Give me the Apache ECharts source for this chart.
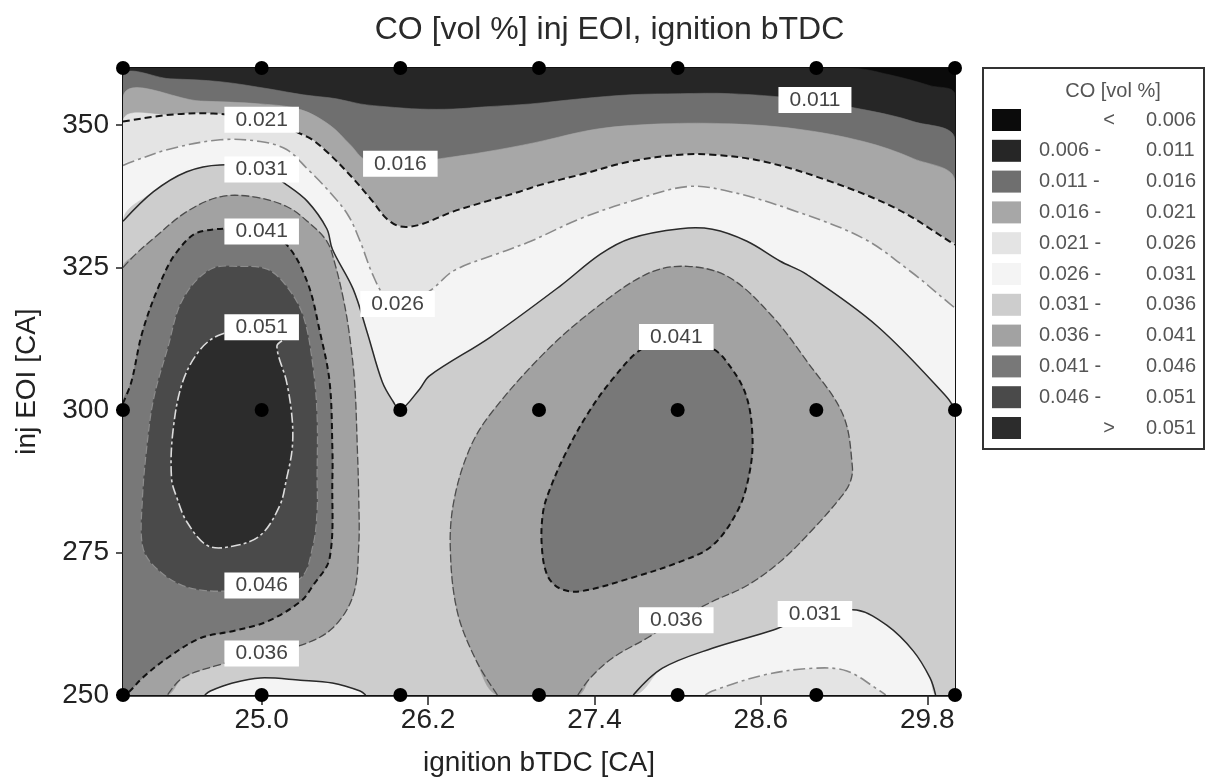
<!DOCTYPE html>
<html>
<head>
<meta charset="utf-8">
<title>CO [vol %] inj EOI, ignition bTDC</title>
<script src="https://cdn.jsdelivr.net/npm/echarts@6/dist/echarts.min.js"></script>
<style>
  html, body { margin: 0; padding: 0; background: #fff; }
  #chart { width: 1219px; height: 782px; }
</style>
</head>
<body>
<div id="chart"></div>
<script>
// Measurement grid (black dots): ignition bTDC x inj EOI
const ignitionPoints = [24, 25, 26, 27, 28, 29, 30];
const injEoiPoints = [250, 300, 360];

// Axis tick values
const xTickValues = [25.0, 26.2, 27.4, 28.6, 29.8];
const yTickValues = [250, 275, 300, 325, 350];

// CO contour levels [vol %] and the fill of each band (band i lies between level i-1 and level i)
const coLevels = [0.006, 0.011, 0.016, 0.021, 0.026, 0.031, 0.036, 0.041, 0.046, 0.051];
const bandColors = ['#0b0b0b', '#262626', '#6f6f6f', '#a7a7a7', '#e4e4e4', '#f4f4f4',
                    '#cdcdcd', '#a2a2a2', '#787878', '#4a4a4a', '#2c2c2c'];

// Iso-lines as [ignition bTDC, inj EOI] points
const line006 = [[29.24,360],[29.53,358.8],[29.82,356.9],[30,355.3]];
const line011 = [[24,358.3],[24.34,358.1],[24.70,357.6],[25.06,356.3],[25.30,355.3],[25.54,354.6],[25.71,353.7],[25.90,353.2],[26.14,352.8],[26.38,352.8],[26.62,353.2],[26.94,353.7],[27.30,354.6],[27.66,355.3],[28.02,355.5],[28.38,355.5],[28.86,354.6],[29.34,352.7],[29.70,350.6],[30,347.4]];
const line016 = [[24,354.8],[24.56,354.2],[24.99,353.7],[25.28,352.7],[25.49,350.0],[25.64,346.5],[25.75,343.9],[26.0,343.2],[26.29,344.1],[26.62,345.3],[26.97,346.9],[27.42,349.3],[27.89,350.2],[28.38,350.2],[28.86,349.3],[29.34,347.1],[29.70,344.1],[30,340.1]];
const line021 = [[24,350.6],[24.34,351.8],[24.65,352.0],[25.0,350.9],[25.33,347.9],[25.47,345.3],[25.66,340.6],[25.80,336.6],[25.90,333.6],[26.0,332.2],[26.14,332.5],[26.38,334.8],[26.62,336.6],[26.86,338.3],[27.01,339.5],[27.30,341.3],[27.66,343.6],[28.02,344.8],[28.25,344.8],[28.62,343.6],[29.10,340.1],[29.58,335.3],[29.96,329.6],[30,329.0]];
const line026 = [[24,342.9],[24.07,343.6],[24.34,345.8],[24.70,347.4],[24.99,347.1],[25.18,345.7],[25.33,342.3],[25.47,338.8],[25.62,334.3],[25.71,329.6],[25.80,323.8],[25.89,319.8],[25.98,318.6],[26.11,319.4],[26.23,321.2],[26.39,324.5],[26.72,327.6],[26.94,329.6],[27.30,333.6],[27.66,336.6],[28.07,339.2],[28.38,338.3],[28.86,334.8],[29.34,330.1],[29.68,324.3],[29.94,319.1],[30,317.9]];
const hole026 = [[28.20,250],[28.25,250.7],[28.62,253.5],[28.98,254.7],[29.22,254.2],[29.46,250.7],[29.50,250]];
const line031 = [[24,333.1],[24.22,338.3],[24.46,341.8],[24.70,343.0],[25.0,342.2],[25.18,339.5],[25.33,336.6],[25.47,331.8],[25.51,328.2],[25.66,321.2],[25.76,313.7],[25.87,304.9],[25.95,301.4],[26.0,300.0],[26.14,303.7],[26.21,306.0],[26.65,312.8],[27.15,321.7],[27.44,327.3],[27.66,330.1],[28.02,331.8],[28.25,331.7],[28.50,329.6],[28.74,326.1],[28.93,323.8],[29.44,314.7],[29.94,302.3],[30,300.0]];
const hole031Left = [[24.59,250],[24.63,250.7],[24.79,252.1],[24.99,253.0],[25.28,252.6],[25.51,252.1],[25.71,250.7],[25.75,250]];
const hole031Right = [[27.68,250],[27.89,254.7],[28.25,258.2],[28.69,261.4],[28.99,264.2],[29.29,264.9],[29.51,262.2],[29.70,257.7],[29.82,253.0],[29.86,250]];
const left036 = [[24,325.0],[24.09,327.3],[24.22,330.1],[24.46,334.8],[24.70,337.4],[24.94,337.4],[25.18,335.7],[25.33,333.1],[25.47,329.6],[25.53,325.5],[25.59,319.4],[25.63,313.7],[25.67,304.9],[25.69,293.2],[25.70,284.5],[25.70,276.2],[25.66,267.5],[25.51,261.7],[25.28,258.7],[25.0,257.3],[24.68,255.2],[24.43,253.0],[24.32,250]];
const right036 = [[26.70,250],[26.55,255.9],[26.41,264.7],[26.36,276.2],[26.39,284.5],[26.50,293.2],[26.65,299.3],[27.03,309.8],[27.40,317.7],[27.79,324.0],[28.07,325.2],[28.37,323.3],[28.68,316.5],[28.93,308.6],[29.19,299.3],[29.26,290.0],[29.24,287.1],[29.17,284.5],[28.98,279.2],[28.74,273.4],[28.50,269.2],[28.25,266.4],[27.99,263.1],[27.78,260.0],[27.53,256.5],[27.37,253.0],[27.28,250]];
const left041 = [[24,301.2],[24.06,304.9],[24.14,313.7],[24.27,322.4],[24.39,327.8],[24.56,331.3],[25.0,331.3],[25.18,329.0],[25.33,322.4],[25.42,313.7],[25.49,304.9],[25.51,293.2],[25.51,288.0],[25.49,274.0],[25.37,269.2],[25.28,266.4],[25.04,262.9],[24.79,261.2],[24.56,260.0],[24.32,256.5],[24.14,253.0],[24.05,250.7],[24.01,250]];
const right041 = [[27.99,312.8],[28.24,310.9],[28.34,308.9],[28.49,302.8],[28.54,294.9],[28.51,288.0],[28.43,282.2],[28.25,276.2],[28.02,273.4],[27.66,270.5],[27.30,268.2],[27.15,268.7],[27.06,271.0],[27.02,276.2],[27.03,282.2],[27.08,286.2],[27.19,292.3],[27.35,299.3],[27.53,305.4],[27.74,310.7]];
const loop046 = [[25.0,269.2],[24.70,268.2],[24.43,269.2],[24.22,272.7],[24.14,276.2],[24.14,284.5],[24.17,293.2],[24.22,301.9],[24.32,310.7],[24.43,319.4],[24.63,324.7],[24.84,325.2],[25.04,324.7],[25.18,321.7],[25.30,316.5],[25.37,307.7],[25.40,299.0],[25.40,288.0],[25.40,282.2],[25.37,276.2],[25.28,270.5]];
const loop051 = [[25.0,314.5],[24.71,313.3],[24.56,310.7],[24.43,304.9],[24.36,296.2],[24.35,288.0],[24.39,284.5],[24.46,280.4],[24.61,276.2],[24.79,276.1],[24.99,278.0],[25.13,283.2],[25.18,288.0],[25.22,293.2],[25.22,298.4],[25.18,304.9],[25.11,311.2],[25.17,312.8]];

// Inline contour labels: [ignition bTDC, inj EOI, level]
const contourLabels = [
  [28.99, 354.4, 0.011],
  [26.0, 343.2, 0.016],
  [25.0, 350.9, 0.021],
  [25.98, 318.6, 0.026],
  [25.0, 342.2, 0.031],
  [28.99, 264.2, 0.031],
  [25.0, 257.3, 0.036],
  [27.99, 263.1, 0.036],
  [25.0, 331.3, 0.041],
  [27.99, 312.8, 0.041],
  [25.0, 269.2, 0.046],
  [25.0, 314.5, 0.051]
];

// ---- drawing ----
const X0 = 24, X1 = 30, Y0 = 250, Y1 = 360;
const rev = a => a.slice().reverse();
const SMOOTH = 0.35;

// Filled super-level regions, painted from the lowest level upwards
const regions = [
  { band: 0,  pts: [[X0, Y1], [X1, Y1], [X1, Y0], [X0, Y0]], flat: true },
  { band: 1,  pts: [[X0, Y1], ...line006, [X1, Y0], [X0, Y0]] },
  { band: 2,  pts: [...line011, [X1, Y0], [X0, Y0]] },
  { band: 3,  pts: [...line016, [X1, Y0], [X0, Y0]] },
  { band: 4,  pts: [...line021, [X1, Y0], [X0, Y0]] },
  { band: 5,  pts: [...line026, [X1, Y0], ...rev(hole026), [X0, Y0]] },
  { band: 6,  pts: [...line031, [X1, Y0], ...rev(hole031Right), ...rev(hole031Left), [X0, Y0]] },
  { band: 7,  pts: [...left036, [X0, Y0]] },
  { band: 7,  pts: right036 },
  { band: 8,  pts: [...left041, [X0, Y0]] },
  { band: 8,  pts: right041 },
  { band: 9,  pts: loop046 },
  { band: 10, pts: loop051 }
];

// Stroke style of each drawn iso-line level
const levelStyles = {
  '0.021': { stroke: '#151515', lineWidth: 2,   lineDash: [7, 4] },
  '0.026': { stroke: '#8a8a8a', lineWidth: 1.6, lineDash: [12, 4, 3, 4] },
  '0.031': { stroke: '#2a2a2a', lineWidth: 1.5, lineDash: null },
  '0.036': { stroke: '#4d4d4d', lineWidth: 1.3, lineDash: [8, 3] },
  '0.041': { stroke: '#111111', lineWidth: 2,   lineDash: [6, 4] },
  '0.046': { stroke: '#8c8c8c', lineWidth: 1.3, lineDash: [8, 3] },
  '0.051': { stroke: '#dcdcdc', lineWidth: 1.6, lineDash: [10, 3, 3, 3] }
};

const isoLines = [
  { level: 0.021, pts: line021 },
  { level: 0.026, pts: line026 },
  { level: 0.026, pts: hole026 },
  { level: 0.031, pts: line031 },
  { level: 0.031, pts: hole031Left },
  { level: 0.031, pts: hole031Right },
  { level: 0.036, pts: left036 },
  { level: 0.036, pts: right036 },
  { level: 0.041, pts: left041 },
  { level: 0.041, pts: right041, closed: true },
  { level: 0.046, pts: loop046, closed: true },
  { level: 0.051, pts: loop051, closed: true }
];

const dots = [];
injEoiPoints.forEach(y => ignitionPoints.forEach(x => dots.push([x, y])));

const FONT = '"Liberation Sans", Arial, Helvetica, sans-serif';

// Legend box (right side)
const legendW = 221, legendH = 381;
const legendChildren = [
  { type: 'rect', shape: { x: 0, y: 0, width: legendW, height: legendH },
    style: { fill: '#fff', stroke: '#333', lineWidth: 2 } },
  { type: 'text', x: 130, y: 23,
    style: { text: 'CO [vol %]', fill: '#555', font: '20px ' + FONT,
             align: 'center', verticalAlign: 'middle', textAlign: 'center', textVerticalAlign: 'middle' } }
];
function legendText(x, y, txt, align) {
  return { type: 'text', x: x, y: y,
    style: { text: txt, fill: '#555', font: '20px ' + FONT,
             align: align, verticalAlign: 'middle', textAlign: align, textVerticalAlign: 'middle' } };
}
bandColors.forEach((c, i) => {
  const cy = 52 + i * 30.8;
  legendChildren.push({ type: 'rect', shape: { x: 9, y: cy - 11, width: 29, height: 22 }, style: { fill: c } });
  if (i === 0) {
    legendChildren.push(legendText(126, cy, '<', 'center'));
    legendChildren.push(legendText(163, cy, coLevels[0].toFixed(3), 'left'));
  } else if (i === bandColors.length - 1) {
    legendChildren.push(legendText(126, cy, '>', 'center'));
    legendChildren.push(legendText(163, cy, coLevels[i - 1].toFixed(3), 'left'));
  } else {
    legendChildren.push(legendText(56, cy, coLevels[i - 1].toFixed(3) + ' -', 'left'));
    legendChildren.push(legendText(163, cy, coLevels[i].toFixed(3), 'left'));
  }
});

const chart = echarts.init(document.getElementById('chart'), null, { renderer: 'canvas' });
chart.setOption({
  animation: false,
  backgroundColor: '#fff',
  title: {
    text: 'CO [vol %] inj EOI, ignition bTDC',
    left: 'center',
    top: 9,
    textStyle: { fontFamily: FONT, fontSize: 32, fontWeight: 'normal', color: '#2a2a2a' }
  },
  grid: {
    left: 123, top: 68, width: 832, height: 629,
    show: true, borderColor: '#111', borderWidth: 2, backgroundColor: 'transparent'
  },
  xAxis: {
    type: 'value', min: X0, max: X1,
    name: 'ignition bTDC [CA]', nameLocation: 'middle', nameGap: 54,
    nameTextStyle: { fontFamily: FONT, fontSize: 28, color: '#222' },
    axisLine: { lineStyle: { color: '#111', width: 2.5 } },
    axisTick: { customValues: xTickValues, length: 10, lineStyle: { color: '#222', width: 1.5 } },
    axisLabel: { customValues: xTickValues, formatter: v => Number(v).toFixed(1),
                 fontFamily: FONT, fontSize: 28, color: '#222', margin: 11 },
    splitLine: { show: false }
  },
  yAxis: {
    type: 'value', min: Y0, max: Y1,
    name: 'inj EOI [CA]', nameLocation: 'middle', nameGap: 82,
    nameTextStyle: { fontFamily: FONT, fontSize: 28, color: '#222' },
    axisLine: { lineStyle: { color: '#111', width: 2.5 } },
    axisTick: { customValues: yTickValues, length: 7, lineStyle: { color: '#222', width: 1.5 } },
    axisLabel: { customValues: yTickValues, fontFamily: FONT, fontSize: 28, color: '#222', margin: 14 },
    splitLine: { show: false }
  },
  series: [
    {
      type: 'custom', name: 'bands', silent: true, clip: true, z: 1,
      data: regions.map(r => r.pts[0]),
      renderItem: (params, api) => {
        const r = regions[params.dataIndex];
        const c = bandColors[r.band];
        return {
          type: 'polygon',
          shape: { points: r.pts.map(p => api.coord(p)), smooth: r.flat ? 0 : SMOOTH },
          style: { fill: c, stroke: c, lineWidth: 0.6 }
        };
      }
    },
    {
      type: 'custom', name: 'isolines', silent: true, clip: true, z: 2,
      data: isoLines.map(l => l.pts[0]),
      renderItem: (params, api) => {
        const l = isoLines[params.dataIndex];
        const s = levelStyles[l.level.toFixed(3)];
        return {
          type: l.closed ? 'polygon' : 'polyline',
          shape: { points: l.pts.map(p => api.coord(p)), smooth: SMOOTH },
          style: { fill: null, stroke: s.stroke, lineWidth: s.lineWidth, lineDash: s.lineDash }
        };
      }
    },
    {
      type: 'scatter', name: 'labels', silent: true, z: 3, clip: false,
      symbolSize: 1, itemStyle: { color: 'transparent', opacity: 1 },
      data: contourLabels,
      label: {
        show: true, position: 'inside',
        formatter: p => p.value[2].toFixed(3),
        fontFamily: FONT, fontSize: 21, color: '#444', lineHeight: 22,
        backgroundColor: '#ffffff', padding: [2, 11]
      }
    },
    {
      type: 'scatter', name: 'measurements', silent: true, z: 4, clip: false,
      symbolSize: 14, itemStyle: { color: '#000', opacity: 1 },
      data: dots
    }
  ],
  graphic: [
    { type: 'group', left: 982, top: 67, children: legendChildren }
  ]
});
</script>
</body>
</html>
